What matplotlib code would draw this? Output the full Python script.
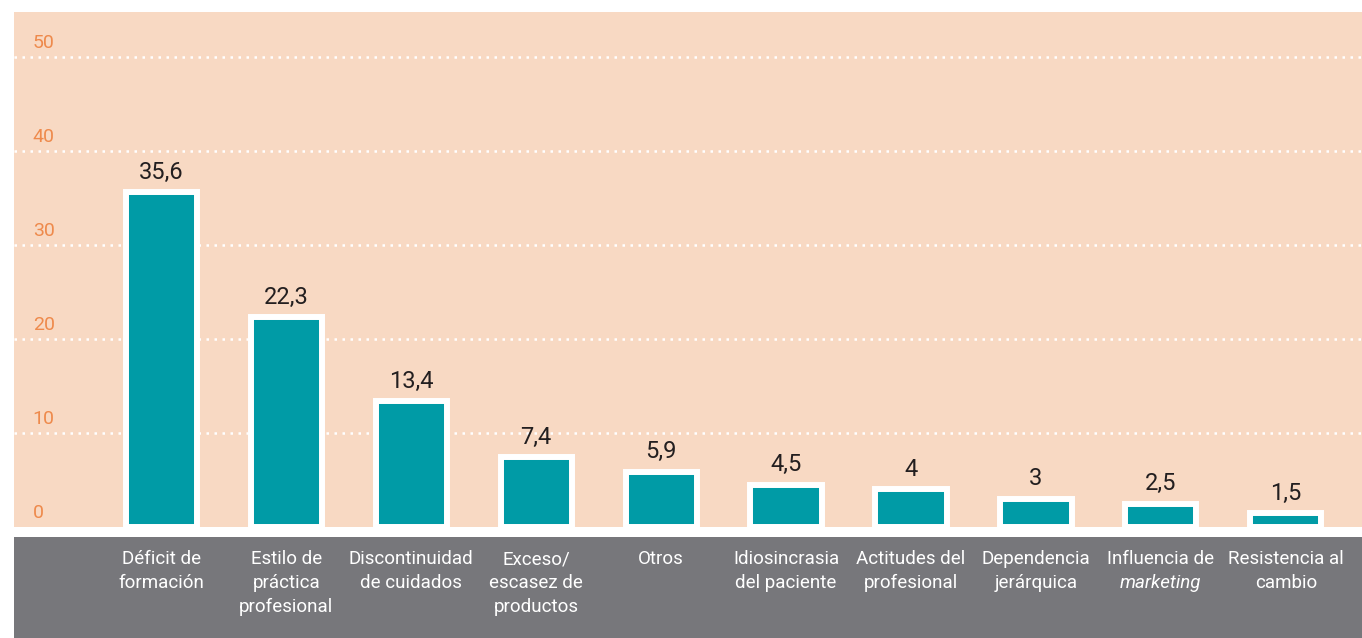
import matplotlib
matplotlib.use("Agg")
import matplotlib.pyplot as plt
import numpy as np

plt.rcParams["font.family"] = ["Liberation Sans Narrow", "Roboto", "DejaVu Sans"]

PEACH = "#F8D9C3"
TEAL = "#009BA6"
GRAY = "#77777B"
ORANGE = "#EE8A4C"
DARK = "#231F20"

categories = [
    ["Déficit de", "formación"],
    ["Estilo de", "práctica", "profesional"],
    ["Discontinuidad", "de cuidados"],
    ["Exceso/", "escasez de", "productos"],
    ["Otros"],
    ["Idiosincrasia", "del paciente"],
    ["Actitudes del", "profesional"],
    ["Dependencia", "jerárquica"],
    ["Influencia de", "marketing"],
    ["Resistencia al", "cambio"],
]
values = [35.6, 22.3, 13.4, 7.4, 5.9, 4.5, 4, 3, 2.5, 1.5]
value_labels = ["35,6", "22,3", "13,4", "7,4", "5,9", "4,5", "4", "3", "2,5", "1,5"]
yticks = [0, 10, 20, 30, 40, 50]
italic_lines = ["marketing"]

W, H = 1362, 638
fig = plt.figure(figsize=(W / 100, H / 100), dpi=100)
fig.patch.set_facecolor("white")

# main plot panel (pixel coords -> figure fractions)
left, right = 14, 1362
top, bottom = 12, 527
ax = fig.add_axes([left / W, 1 - bottom / H, (right - left) / W, (bottom - top) / H])
ax.set_facecolor(PEACH)
x = np.arange(len(values))
ax.set_xlim(-1.18, 9.61)
ax.set_ylim(0, (bottom - top) / 9.4)

for t in yticks[1:]:
    ax.axhline(t, color="white", lw=1.8, ls=(0, (1, 2.2)), zorder=1)
for t in yticks:
    ax.text(-1.03, t + 0.5, str(t), color=ORANGE, fontsize=14,
            ha="left", va="bottom", zorder=2)

ax.bar(x, values, width=0.57, color=TEAL, edgecolor="white", linewidth=4.3,
       zorder=3, clip_on=False)
for xi, v, lab in zip(x, values, value_labels):
    ax.annotate(lab, (xi, v), xytext=(0, 6), textcoords="offset points",
                ha="center", va="bottom", fontsize=17, color=DARK)

for s in ax.spines.values():
    s.set_visible(False)
ax.set_xticks([])
ax.set_yticks([])

# gray label band
bt = 537
axb = fig.add_axes([left / W, 0, (right - left) / W, (H - bt) / H])
axb.set_facecolor(GRAY)
axb.set_xlim(ax.get_xlim())
axb.set_ylim(H - bt, 0)
for s in axb.spines.values():
    s.set_visible(False)
axb.set_xticks([])
axb.set_yticks([])
for xi, lines in zip(x, categories):
    for k, line in enumerate(lines):
        style = "italic" if line in italic_lines else "normal"
        axb.text(xi, 22 + 24 * k, line, ha="center", va="center",
                 color="white", fontsize=13.5, style=style)

fig.savefig("out.png", dpi=100, facecolor="white")
